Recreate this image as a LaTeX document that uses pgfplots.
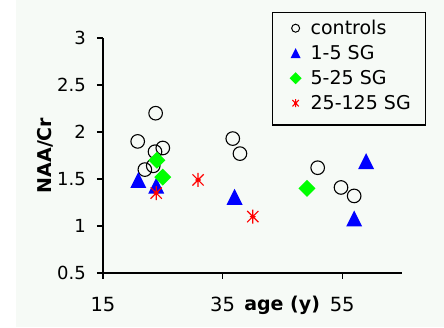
\documentclass[border=0pt]{standalone}
\usepackage{fontspec}
\setmainfont{DejaVu Sans}
\usepackage{pgfplots}
\pgfplotsset{compat=1.18}
\definecolor{bg}{RGB}{246,250,246}
\definecolor{mblue}{RGB}{0,0,255}
\definecolor{mgreen}{RGB}{0,255,0}
\definecolor{mred}{RGB}{255,0,0}
\pgfdeclareplotmark{mytri}{%
  \pgfpathmoveto{\pgfqpoint{0pt}{\pgfplotmarksize}}%
  \pgfpathlineto{\pgfqpoint{\pgfplotmarksize}{-\pgfplotmarksize}}%
  \pgfpathlineto{\pgfqpoint{-\pgfplotmarksize}{-\pgfplotmarksize}}%
  \pgfpathclose\pgfusepathqfill}
\pgfdeclareplotmark{mydia}{%
  \pgfpathmoveto{\pgfqpoint{0pt}{\pgfplotmarksize}}%
  \pgfpathlineto{\pgfqpoint{\pgfplotmarksize}{0pt}}%
  \pgfpathlineto{\pgfqpoint{0pt}{-\pgfplotmarksize}}%
  \pgfpathlineto{\pgfqpoint{-\pgfplotmarksize}{0pt}}%
  \pgfpathclose\pgfusepathqfill}
\pgfdeclareplotmark{mystar}{%
  \pgfpathmoveto{\pgfqpoint{0pt}{\pgfplotmarksize}}%
  \pgfpathlineto{\pgfqpoint{0pt}{-\pgfplotmarksize}}%
  \pgfpathmoveto{\pgfqpoint{-0.8\pgfplotmarksize}{0.8\pgfplotmarksize}}%
  \pgfpathlineto{\pgfqpoint{0.8\pgfplotmarksize}{-0.8\pgfplotmarksize}}%
  \pgfpathmoveto{\pgfqpoint{-0.8\pgfplotmarksize}{-0.8\pgfplotmarksize}}%
  \pgfpathlineto{\pgfqpoint{0.8\pgfplotmarksize}{0.8\pgfplotmarksize}}%
  \pgfpathmoveto{\pgfqpoint{-0.4\pgfplotmarksize}{0pt}}%
  \pgfpathlineto{\pgfqpoint{0.4\pgfplotmarksize}{0pt}}%
  \pgfusepathqstroke}
\begin{document}
\begin{tikzpicture}
\path[use as bounding box] (0,0) rectangle (444bp,328bp);
\fill[white] (0,0) rectangle (444bp,328bp);
\fill[bg] (16bp,1bp) rectangle (444bp,328bp);
\begin{axis}[
  at={(103bp,55bp)}, anchor=south west,
  scale only axis, width=299bp, height=235bp,
  xmin=15, xmax=65, ymin=0.5, ymax=3,
  xtick={15,35,55}, ytick={0.5,1,1.5,2,2.5,3},
  axis x line*=bottom, axis y line*=left,
  axis line style={black, line width=1.3bp, -},
  tick align=outside, major tick length=6bp,
  tick style={black, line width=1.2bp},
  /pgf/number format/assume math mode=true,
  yticklabel style={font=\fontsize{18bp}{18bp}\selectfont, inner sep=0pt, anchor=east, xshift=-11bp},
  xticklabel style={font=\fontsize{19.5bp}{19.5bp}\selectfont, inner sep=0pt, anchor=north, yshift=-18bp},
  yticklabel={\pgfmathprintnumber[fixed,precision=1]{\tick}},
  xlabel={\textbf{age (y)}},
  xlabel style={font=\fontsize{19bp}{19bp}\selectfont, at={(axis description cs:0.599,-0.1617)}, anchor=base, inner sep=0pt},
  ylabel={\textbf{NAA/Cr}},
  ylabel style={font=\fontsize{19bp}{19bp}\selectfont, at={(axis description cs:-0.194,0.5)}, anchor=center, inner sep=0pt},
  legend style={at={(axis description cs:0.565,1.1106)}, anchor=north west,
    draw=black, line width=1.4bp, fill=bg, inner xsep=15bp, inner ysep=0pt,
    row sep=0pt, column sep=0pt,
    font=\fontsize{19bp}{19bp}\selectfont,
    nodes={inner sep=0pt, anchor=west}},
  legend cell align=left,
  clip=false,
]
\addplot[only marks, mark=o, mark size=6.8bp, black, line width=1.1bp,
  legend image code/.code={\path[draw=none,fill=none] (-8bp,-12.5bp) rectangle (15bp,15.5bp);
    \draw[mark size=4bp,line width=1bp] plot coordinates {(0bp,0bp)};}]
  coordinates {(20.8,1.90) (23.8,2.20) (25.0,1.83) (23.7,1.79) (22.0,1.60) (23.4,1.64)
  (36.7,1.93) (37.9,1.77) (50.9,1.62) (54.8,1.41) (57.0,1.32)};
\addlegendentry{controls}
\addplot[only marks, mark=mytri, mark size=8bp, mblue,
  legend image code/.code={\path[draw=none,fill=none] (-8bp,-12.5bp) rectangle (15bp,12.5bp);
    \draw[mark size=5bp] plot coordinates {(0bp,0bp)};}]
  coordinates {(20.9,1.49) (23.9,1.43) (37.0,1.31) (57.0,1.08) (59.0,1.69)};
\addlegendentry{1-5 SG}
\addplot[only marks, mark=mydia, mark size=8.5bp, mgreen,
  legend image code/.code={\path[draw=none,fill=none] (-8bp,-12.5bp) rectangle (15bp,12.5bp);
    \draw[mark size=6bp] plot coordinates {(0bp,0bp)};}]
  coordinates {(24.0,1.70) (25.0,1.52) (49.1,1.40)};
\addlegendentry{5-25 SG}
\addplot[only marks, mark=mystar, mark size=7bp, mred, line width=1.2bp,
  legend image code/.code={\path[draw=none,fill=none] (-8bp,-21.7bp) rectangle (15bp,12.5bp);
    \draw[mark size=4bp, line width=1bp] plot coordinates {(0bp,0bp)};}]
  coordinates {(23.9,1.35) (30.9,1.49) (40.05,1.10)};
\addlegendentry{25-125 SG}
\end{axis}
\end{tikzpicture}
\end{document}
